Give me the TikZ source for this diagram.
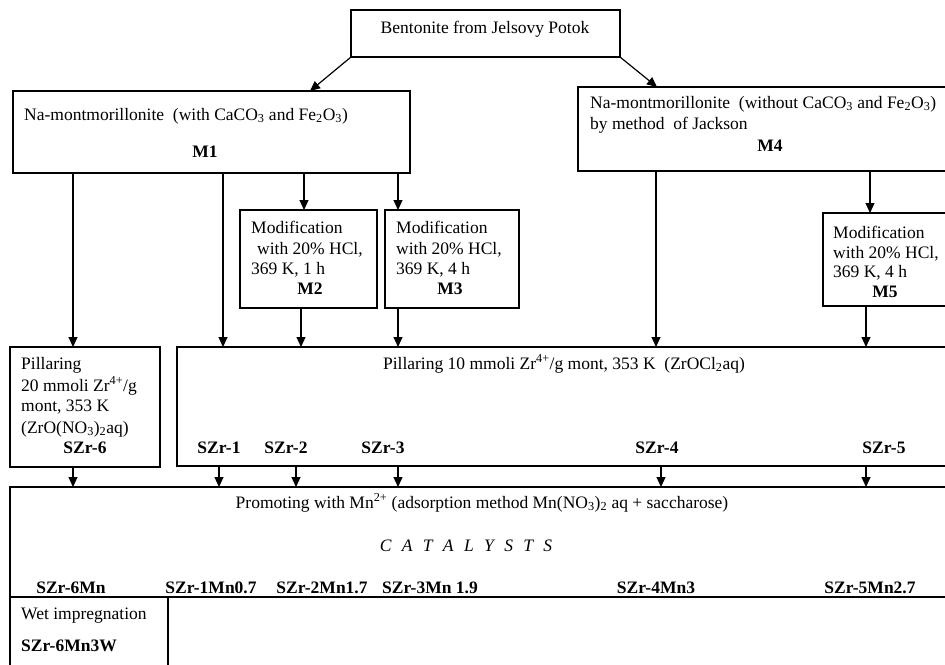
\documentclass[tikz,border=0pt]{standalone}
\usepackage{fontspec}
\setmainfont{Liberation Serif}
\usetikzlibrary{arrows.meta}
\begin{document}
\begin{tikzpicture}[x=1pt,y=-1pt,
  box/.style={draw,line width=1.2pt,inner sep=0pt,outer sep=0pt,anchor=north west},
  arr/.style={line width=1.2pt,-{Triangle[length=10pt,width=9pt]}},
  every node/.append style={font=\fontsize{17.5}{21}\selectfont},
  tl/.style={anchor=base west,inner sep=0pt},
  tc/.style={anchor=base,inner sep=0pt},
  bl/.style={anchor=base,inner sep=0pt,font=\fontsize{17.5}{21}\selectfont\bfseries}]
\clip (0,0) rectangle (945,664);
% boxes
\node[box,minimum width=269pt,minimum height=47pt] (B) at (351,10) {};
\node[box,minimum width=397pt,minimum height=82pt] (M1) at (13,91) {};
\node[box,minimum width=382pt,minimum height=84pt] (M4) at (578,87) {};
\node[box,minimum width=137pt,minimum height=98pt] (M2) at (240,210) {};
\node[box,minimum width=134pt,minimum height=98pt] (M3) at (385,210) {};
\node[box,minimum width=140pt,minimum height=93pt] (M5) at (823,213) {};
\node[box,minimum width=150pt,minimum height=120pt] (S6) at (10,347) {};
\node[box,minimum width=785pt,minimum height=119pt] (P) at (177,347) {};
\node[box,minimum width=952pt,minimum height=110pt] (PR) at (10,487) {};
\node[box,minimum width=158pt,minimum height=80pt] (W) at (10,597) {};
% texts
\node[tc] (tB) at (485,33) {Bentonite from Jelsovy Potok};
\node[tl] (tM1) at (24,120) {Na-montmorillonite\ \ (with CaCO\textsubscript{3} and Fe\textsubscript{2}O\textsubscript{3})};
\node[bl] (lM1) at (205,157) {M1};
\node[tl] (tM4a) at (590,108) {Na-montmorillonite\ \ (without CaCO\textsubscript{3} and Fe\textsubscript{2}O\textsubscript{3})};
\node[tl] (tM4b) at (590,129) {by method\ \ of Jackson};
\node[bl] (lM4) at (770,151) {M4};
\node[tl] (tM2a) at (251,233) {Modification};
\node[tl] (tM2b) at (257,254) {with 20\% HCl,};
\node[tl] (tM2c) at (251,274) {369 K, 1 h};
\node[bl] (lM2) at (310,294) {M2};
\node[tl] (tM3a) at (396,233) {Modification};
\node[tl] (tM3b) at (396,254) {with 20\% HCl,};
\node[tl] (tM3c) at (396,274) {369 K, 4 h};
\node[bl] (lM3) at (450,294) {M3};
\node[tl] (tM5a) at (833,238) {Modification};
\node[tl] (tM5b) at (833,258) {with 20\% HCl,};
\node[tl] (tM5c) at (833,277) {369 K, 4 h};
\node[bl] (lM5) at (885,297) {M5};
\node[tl] (tS6a) at (21,369) {Pillaring};
\node[tl] (tS6b) at (21,391) {20 mmoli Zr\textsuperscript{4+}/g};
\node[tl] (tS6c) at (21,411) {mont, 353 K};
\node[tl] (tS6d) at (21,433) {(ZrO(NO\textsubscript{3})\textsubscript{2}aq)};
\node[bl] (lS6) at (85,453) {SZr-6};
\node[tc] (tP) at (564,369) {Pillaring 10 mmoli Zr\textsuperscript{4+}/g mont, 353 K\ \ (ZrOCl\textsubscript{2}aq)};
\node[bl] (lS1) at (219,453) {SZr-1};
\node[bl] (lS2) at (286,453) {SZr-2};
\node[bl] (lS3) at (383,453) {SZr-3};
\node[bl] (lS4) at (657,453) {SZr-4};
\node[bl] (lS5) at (884,453) {SZr-5};
\node[tc] (tPR) at (482,508) {Promoting with Mn\textsuperscript{2+} (adsorption method Mn(NO\textsubscript{3})\textsubscript{2} aq + saccharose)};
\node[tc] (tCat) at (466,551) {\itshape C\hspace{6pt} A\hspace{6pt} T\hspace{6pt} A\hspace{6pt} L\hspace{6pt} Y\hspace{6pt} S\hspace{6pt} T\hspace{6pt} S};
\node[bl] (c6) at (71,593) {SZr-6Mn};
\node[bl] (c1) at (211,593) {SZr-1Mn0.7};
\node[bl] (c2) at (322,593) {SZr-2Mn1.7};
\node[bl] (c3) at (430,593) {SZr-3Mn 1.9};
\node[bl] (c4) at (656,593) {SZr-4Mn3};
\node[bl] (c5) at (870,593) {SZr-5Mn2.7};
\node[tl] (tWa) at (21,619) {Wet impregnation};
\node[tl,font=\fontsize{17.5}{21}\selectfont\bfseries] (tWb) at (21,651) {SZr-6Mn3W};
% x positions
\coordinate (x73) at (73,0);
\coordinate (x219) at (219,0);
\coordinate (x223) at (223,0);
\coordinate (x296) at (296,0);
\coordinate (x301) at (301,0);
\coordinate (x304) at (304,0);
\coordinate (x310) at (310,0);
\coordinate (x398) at (398,0);
\coordinate (x656) at (656,0);
\coordinate (x657) at (657,0);
\coordinate (x661) at (661,0);
\coordinate (x866) at (866,0);
\coordinate (x870) at (870,0);
% connectors
\draw[arr] (B.south west) -- (M1.north -| x310);
\draw[arr] (B.south east) -- (M4.north -| x657);
\draw[arr] (M1.south -| x73) -- (S6.north -| x73);
\draw[arr] (M1.south -| x223) -- (P.north -| x223);
\draw[arr] (M1.south -| x304) -- (M2.north -| x304);
\draw[arr] (M1.south -| x398) -- (M3.north -| x398);
\draw[arr] (M4.south -| x656) -- (P.north -| x656);
\draw[arr] (M4.south -| x870) -- (M5.north -| x870);
\draw[arr] (M2.south -| x301) -- (P.north -| x301);
\draw[arr] (M3.south -| x398) -- (P.north -| x398);
\draw[arr] (M5.south -| x866) -- (P.north -| x866);
\draw[arr] (S6.south -| x73) -- (PR.north -| x73);
\draw[arr] (P.south -| x219) -- (PR.north -| x219);
\draw[arr] (P.south -| x296) -- (PR.north -| x296);
\draw[arr] (P.south -| x398) -- (PR.north -| x398);
\draw[arr] (P.south -| x661) -- (PR.north -| x661);
\draw[arr] (P.south -| x866) -- (PR.north -| x866);
\end{tikzpicture}
\end{document}
